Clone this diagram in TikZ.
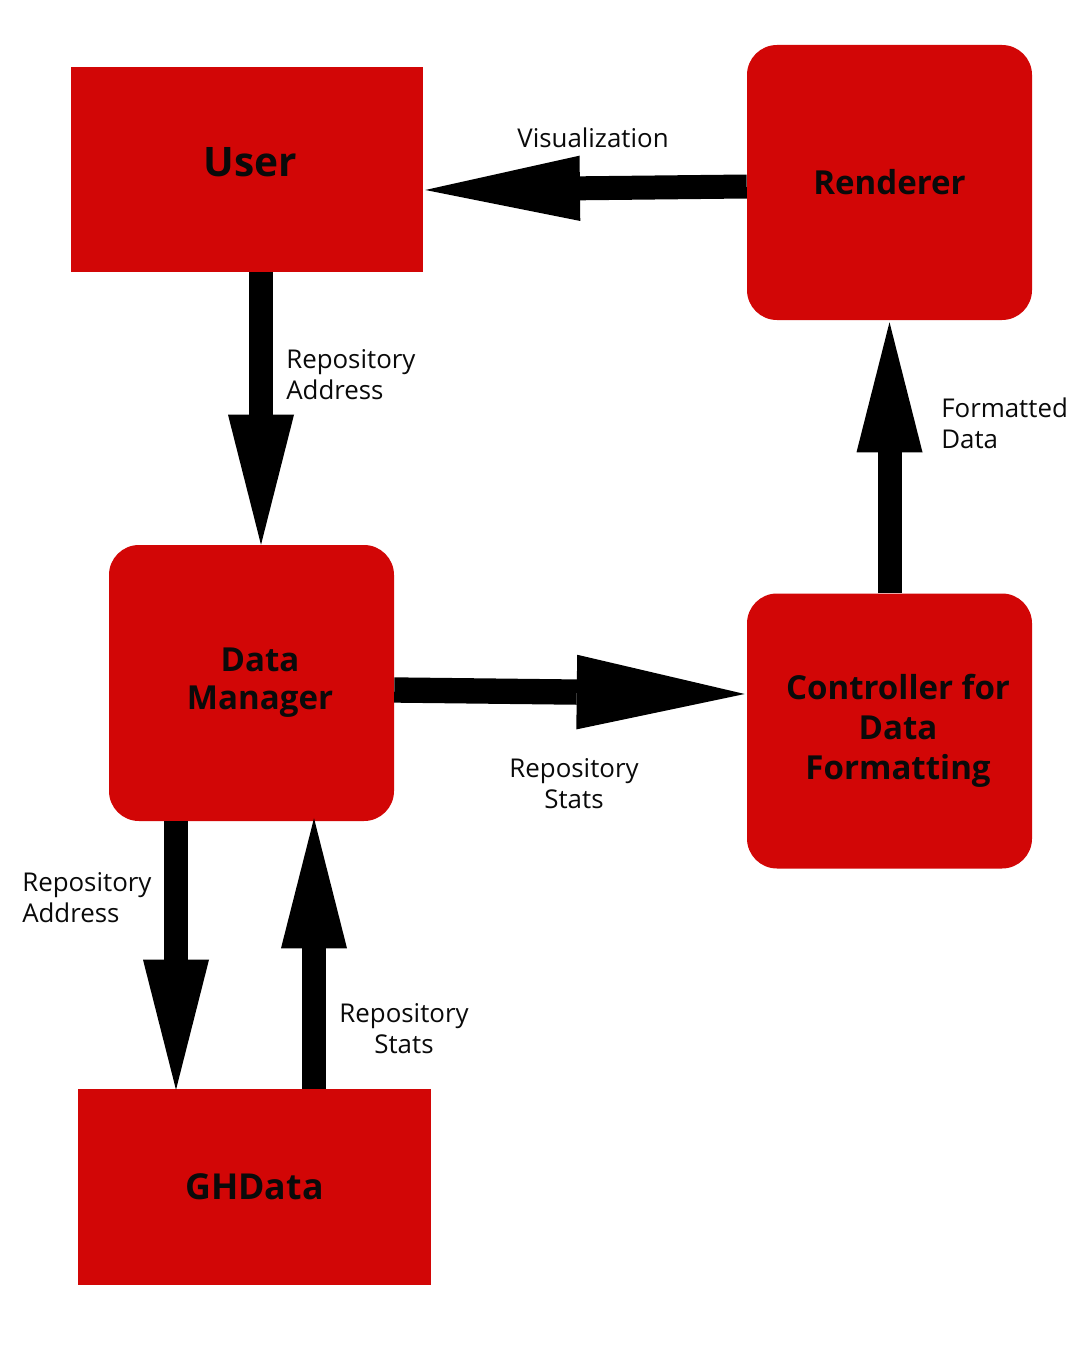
\documentclass[tikz,border=0pt]{standalone}
\usepackage{fontspec}
\setmainfont{Open Sans}
\usetikzlibrary{arrows.meta,calc}
\definecolor{boxred}{RGB}{210,6,6}
\definecolor{ink}{RGB}{10,10,10}
\tikzset{
  box/.style={fill=boxred, draw=none, inner sep=0pt, align=center, text=ink,
    font=\bfseries\fontsize{24.8}{29.8}\selectfont},
  boxtxt/.style={box, fill=none},
  roundbox/.style={box, rounded corners=22.5pt},
  lbl/.style={inner sep=0pt, text=ink, font=\fontsize{19.4}{23.25}\selectfont},
  blk/.style={line width=18pt, draw=black,
    -{Triangle[length=97.5pt,width=49.5pt,line width=0pt]}},
  blkwide/.style={line width=19pt, draw=black,
    -{Triangle[length=126pt,width=56pt,line width=0pt]}},
  blkvis/.style={line width=18pt, draw=black,
    -{Triangle[length=116pt,width=49pt,line width=0pt]}}
}
\begin{document}
\begin{tikzpicture}[x=0.75pt,y=-0.75pt]
\useasboundingbox (0,0) rectangle (1080,1359);
\fill[white] (0,0) rectangle (1080,1359);

\node[box, minimum width=264pt, minimum height=153.75pt,
  label={[boxtxt, xshift=2.25pt, yshift=5.5pt, font=\bfseries\fontsize{30.5}{36}\selectfont]center:User}]
  (user) at (247,169.5) {};
\node[roundbox, minimum width=213.75pt, minimum height=206.25pt] (rend) at (889.5,182.5) {Renderer};
\node[roundbox, minimum width=213.75pt, minimum height=207pt,
  label={[boxtxt, xshift=6.4pt, yshift=0.2pt, font=\bfseries\fontsize{24.8}{28.8}\selectfont]center:Data\\Manager}] (dm) at (251.5,683) {};
\node[roundbox, minimum width=213.75pt, minimum height=206.25pt,
  label={[boxtxt, xshift=6.4pt, yshift=0pt, font=\bfseries\fontsize{24.8}{30.2}\selectfont]center:Controller for\\Data\\Formatting}] (ctrl) at (889.5,731) {};
\node[box, minimum width=264.75pt, minimum height=147pt,
  font=\bfseries\fontsize{26.8}{32}\selectfont] (gh) at (254.5,1187) {GHData};

% connectors
\draw[blkvis] ($(rend.west)+(0,4)$) -- ($(user.east)+(2,20.5)$);
\draw[blk] ($(user.south)+(14,0)$) -- ($(dm.north)+(9.5,0)$);
\draw[blkwide] ($(dm.east)+(0,7)$) -- ($(ctrl.west)+(-2,-37)$);
\draw[blk] (ctrl.north) -- ($(rend.south)+(0,2)$);
\draw[blk] ($(dm.south)+(-75.5,0)$) -- ($(gh.north)+(-78.5,1)$);
\draw[blk] ($(gh.north)+(59.5,0)$) -- ($(dm.south)+(62.5,-3)$);

% labels
\node[lbl] (lvis) at (593,138) {Visualization};
\node[lbl, align=left, anchor=west] (laddr1) at (286,374.5) {Repository\\Address};
\node[lbl, align=left, anchor=west] (lfmt) at (941,423) {Formatted\\Data};
\node[lbl, align=center] (lstats1) at (574,783.5) {Repository\\Stats};
\node[lbl, align=left, anchor=west] (laddr2) at (22,897.5) {Repository\\Address};
\node[lbl, align=center] (lstats2) at (404,1028.5) {Repository\\Stats};
\end{tikzpicture}
\end{document}
